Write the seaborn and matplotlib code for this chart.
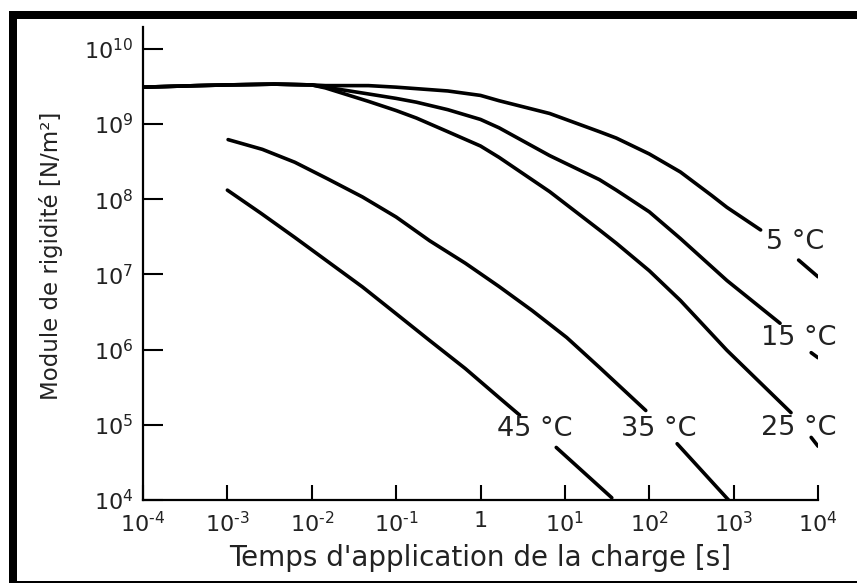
import numpy as np
import pandas as pd
import matplotlib
matplotlib.use("Agg")
import matplotlib.pyplot as plt
from matplotlib.patches import Rectangle
import seaborn as sns

# ---------------- data ----------------
temps_labels = ["5 °C", "15 °C", "25 °C", "35 °C", "45 °C"]

# shared plateau at short loading times (5, 15, 25 °C)
t_plateau = [1e-4, 4.4e-4, 1e-3, 3.6e-3, 1e-2]
E_plateau = [3.09e9, 3.24e9, 3.31e9, 3.39e9, 3.31e9]

# 5 °C
t_5C = [1.45e-2, 0.047, 0.1, 0.41, 1, 1.66, 6.6, 25.7, 40.7, 100, 234, 550, 832, 2090]
E_5C = [3.24e9, 3.24e9, 3.09e9, 2.75e9, 2.4e9, 2.04e9, 1.38e9, 7.9e8, 6.5e8, 4.0e8, 2.3e8, 1.12e8, 7.8e7, 3.9e7]
t_5C_end = [5890, 1e4]
E_5C_end = [1.55e7, 9.3e6]

# 15 °C
t_15C = [1.45e-2, 0.047, 0.1, 0.174, 0.41, 1, 1.66, 6.6, 25.7, 40.7, 100, 234, 832, 3550]
E_15C = [3.09e9, 2.51e9, 2.19e9, 1.95e9, 1.55e9, 1.15e9, 8.9e8, 3.8e8, 1.82e8, 1.32e8, 6.8e7, 3.0e7, 8.3e6, 2.24e6]
t_15C_end = [8300, 1e4]
E_15C_end = [9.1e5, 7.8e5]

# 25 °C
t_25C = [1.45e-2, 0.047, 0.1, 0.174, 0.41, 1, 1.66, 6.6, 25.7, 40.7, 100, 234, 832, 4790]
E_25C = [3.02e9, 2.0e9, 1.51e9, 1.2e9, 7.9e8, 5.1e8, 3.6e8, 1.26e8, 3.9e7, 2.6e7, 1.12e7, 4.5e6, 9.8e5, 1.45e5]
t_25C_end = [8300, 1e4]
E_25C_end = [6.8e4, 5.2e4]

# 35 °C
t_35C = [1.02e-3, 2.6e-3, 6.3e-3, 1.55e-2, 0.04, 0.1, 0.25, 0.66, 1.66, 4.1, 10.5, 25.7, 91]
E_35C = [6.2e8, 4.6e8, 3.1e8, 1.86e8, 1.07e8, 5.8e7, 2.8e7, 1.41e7, 6.9e6, 3.3e6, 1.45e6, 5.8e5, 1.55e5]
t_35C_end = [214, 870]
E_35C_end = [5.6e4, 1.0e4]

# 45 °C
t_45C = [1e-3, 2.5e-3, 6.3e-3, 1.55e-2, 0.04, 0.1, 0.25, 0.66, 1.66, 2.9]
E_45C = [1.32e8, 6.5e7, 3.1e7, 1.48e7, 6.8e6, 3.0e6, 1.32e6, 5.6e5, 2.3e5, 1.35e5]
t_45C_end = [7.9, 36]
E_45C_end = [5.0e4, 1.07e4]

HY = "\u2010"  # short hyphen used in the exponents
x_ticks = [1e-4, 1e-3, 1e-2, 1e-1, 1, 1e1, 1e2, 1e3, 1e4]
x_ticklabels = [r"$10^{%s4}$" % HY, r"$10^{%s3}$" % HY, r"$10^{%s2}$" % HY, r"$10^{%s1}$" % HY, "1",
                r"$10^{1}$", r"$10^{2}$", r"$10^{3}$", r"$10^{4}$"]
y_ticks = [1e4, 1e5, 1e6, 1e7, 1e8, 1e9, 1e10]
y_ticklabels = [r"$10^{4}$", r"$10^{5}$", r"$10^{6}$", r"$10^{7}$",
                r"$10^{8}$", r"$10^{9}$", r"$10^{10}$"]

xlabel = "Temps d'application de la charge [s]"
ylabel = "Module de rigidité [N/m²]"

# ---------------- build table ----------------
segments = [
    ("5C_a", t_plateau + t_5C, E_plateau + E_5C), ("5C_b", t_5C_end, E_5C_end),
    ("15C_a", t_plateau + t_15C, E_plateau + E_15C), ("15C_b", t_15C_end, E_15C_end),
    ("25C_a", t_plateau + t_25C, E_plateau + E_25C), ("25C_b", t_25C_end, E_25C_end),
    ("35C_a", t_35C, E_35C), ("35C_b", t_35C_end, E_35C_end),
    ("45C_a", t_45C, E_45C), ("45C_b", t_45C_end, E_45C_end),
]
rows = []
for name, ts, es in segments:
    for t, e in zip(ts, es):
        rows.append({"t": t, "E": e, "seg": name})
df = pd.DataFrame(rows)

# ---------------- plot ----------------
sns.set_theme(style="white")
plt.rcParams["font.family"] = ["DejaVu Sans"]
plt.rcParams["mathtext.fontset"] = "dejavusans"

W, H = 857, 583
fig = plt.figure(figsize=(W / 100, H / 100), dpi=100)
fig.patch.set_facecolor("white")
ax = fig.add_axes([143 / W, 83 / H, 675 / W, 473 / H])
ax.set_facecolor("white")

ax.set_xscale("log")
ax.set_yscale("log")

sns.lineplot(data=df, x="t", y="E", units="seg", estimator=None, sort=False,
             color="black", lw=2.6, legend=False, ax=ax,
             solid_capstyle="round", solid_joinstyle="round")

ax.set_xlim(1e-4, 1e4)
ax.set_ylim(1e4, 10 ** 10.29)

ax.set_xticks(x_ticks)
ax.set_xticklabels(x_ticklabels)
ax.set_yticks(y_ticks)
ax.set_yticklabels(y_ticklabels)
ax.minorticks_off()

for s in ["top", "right"]:
    ax.spines[s].set_visible(False)
for s in ["left", "bottom"]:
    ax.spines[s].set_color("black")
    ax.spines[s].set_linewidth(1.6)

ax.tick_params(axis="y", direction="in", length=14.5, width=1.5, pad=7,
               labelsize=16, colors="black", left=True)
ax.tick_params(axis="x", direction="in", length=10.5, width=1.5, pad=8,
               labelsize=16, colors="black", bottom=True)
for lab in ax.get_xticklabels() + ax.get_yticklabels():
    lab.set_color("#222222")

ax.set_xlabel(xlabel, fontsize=20, color="#222222")
ax.set_ylabel(ylabel, fontsize=16.5, color="#222222")
ax.xaxis.set_label_coords(0.5, -0.093)
ax.yaxis.set_label_coords(-0.118, 0.516)

# curve labels
label_pos = [(10 ** 3.73, 10 ** 7.43), (10 ** 3.77, 10 ** 6.15), (10 ** 3.77, 10 ** 4.96),
             (10 ** 2.11, 10 ** 4.95), (10 ** 0.64, 10 ** 4.95)]
for txt, (x, y) in zip(temps_labels, label_pos):
    ax.text(x, y, txt, ha="center", va="center", fontsize=19.5, color="#222222")

# figure frame (left, top, thin bottom)
fig.add_artist(Rectangle((9 / W, 0), 8 / W, (H - 11) / H, transform=fig.transFigure,
                         facecolor="black", edgecolor="none"))
fig.add_artist(Rectangle((9 / W, (H - 19) / H), (W - 9) / W, 8 / H, transform=fig.transFigure,
                         facecolor="black", edgecolor="none"))
fig.add_artist(Rectangle((9 / W, 0), (W - 9) / W, 2.5 / H, transform=fig.transFigure,
                         facecolor="black", edgecolor="none"))

fig.savefig("out.png", dpi=100, facecolor="white")
